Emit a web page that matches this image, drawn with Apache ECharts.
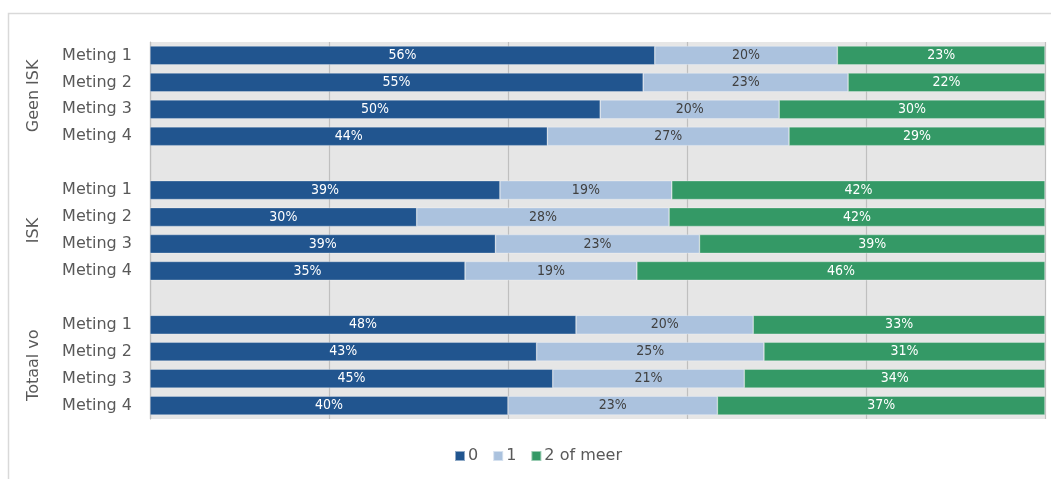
<!DOCTYPE html>
<html>
<head>
<meta charset="utf-8">
<script src="https://cdn.jsdelivr.net/npm/echarts@6/dist/echarts.min.js"></script>
<style>html,body{margin:0;padding:0;background:#fff}#c{width:1051px;height:479px}</style>
</head>
<body>
<div id="c"></div>
<script>
// Rows (empty strings are spacer rows between the groups)
const categories = ['Meting 1','Meting 2','Meting 3','Meting 4','',
                    'Meting 1','Meting 2','Meting 3','Meting 4','',
                    'Meting 1','Meting 2','Meting 3','Meting 4'];
const groupNames = ['Geen ISK','ISK','Totaal vo'];
const groupCenters = [2, 7, 12];
const seriesNames = ['0','1','2 of meer'];
// Percentages
const values0    = [56.4, 55.1, 50.3, 44.4, null, 39.1, 29.8, 38.6, 35.2, null, 47.6, 43.2, 45.0, 40.0];
const values1    = [20.4, 22.9, 20.0, 27.0, null, 19.2, 28.2, 22.8, 19.2, null, 19.8, 25.4, 21.4, 23.4];
const values2    = [23.2, 22.0, 29.7, 28.6, null, 41.7, 42.0, 38.6, 45.6, null, 32.6, 31.4, 33.6, 36.6];
const colors = ['#21558f', '#abc2de', '#349966'];
const labelColors = ['#ffffff', '#404040', '#ffffff'];

const chart = echarts.init(document.getElementById('c'));
const font = 'DejaVu Sans';
const mk = (name, data, i) => ({
  name, type: 'bar', stack: 'all', data,
  barCategoryGap: '30%',
  itemStyle: { color: colors[i], borderColor: 'rgba(255,255,255,0.5)', borderWidth: 0.6 },
  label: {
    show: true, position: 'inside', color: labelColors[i],
    fontFamily: '"Liberation Sans Narrow", "DejaVu Sans Condensed", "Roboto Condensed", Roboto, sans-serif',
    fontSize: 14, fontWeight: 'normal',
    formatter: p => Math.round(p.value) + '%'
  },
  emphasis: { disabled: true }
});
chart.setOption({
  animation: false,
  backgroundColor: '#fff',
  graphic: [{
    type: 'rect', left: 6, top: 11, shape: { width: 1200, height: 600 },
    style: { fill: 'none', stroke: '#d9d9d9', lineWidth: 1.5 }, silent: true
  }],
  grid: { left: 150, right: 6, top: 42, bottom: 60, show: true, backgroundColor: '#e6e6e6', borderWidth: 0 },
  legend: {
    data: seriesNames, left: 449, top: 443, icon: 'rect', itemWidth: 10, itemHeight: 10, itemGap: 14,
    textStyle: { fontFamily: font, fontSize: 16, color: '#595959', padding: [0, 0, 0, -2] }
  },
  xAxis: {
    type: 'value', min: 0, max: 100, interval: 20,
    axisLabel: { show: false }, axisTick: { show: false }, axisLine: { show: false },
    splitLine: { show: true, lineStyle: { color: '#bfbfbf', width: 1.2 } }
  },
  yAxis: [{
    type: 'category', data: categories, inverse: true,
    axisTick: { show: false },
    axisLine: { show: true, lineStyle: { color: '#bfbfbf', width: 1.2 } },
    axisLabel: { fontFamily: font, fontSize: 16, color: '#595959', margin: 18 }
  }, {
    type: 'value', min: 0, max: 14, interval: 1, inverse: true, position: 'left', offset: 108,
    axisTick: { show: false }, axisLine: { show: false }, splitLine: { show: false },
    axisLabel: {
      rotate: 90, fontFamily: font, fontSize: 16, color: '#595959', margin: 0,
      formatter: v => { const k = groupCenters.indexOf(v); return k >= 0 ? groupNames[k] : ''; }
    }
  }],
  series: [mk(seriesNames[0], values0, 0), mk(seriesNames[1], values1, 1), mk(seriesNames[2], values2, 2)]
});
</script>
</body>
</html>
